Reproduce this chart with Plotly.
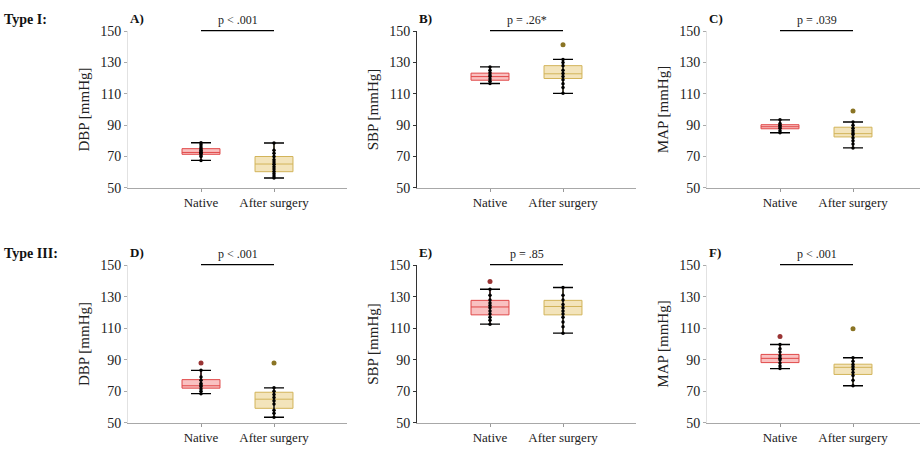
import plotly.graph_objects as go

# ---------------- data ----------------
categories = ["Native", "After surgery"]
panel_labels = ["A)", "B)", "C)", "D)", "E)", "F)"]
y_titles = ["DBP [mmHg]", "SBP [mmHg]", "MAP [mmHg]", "DBP [mmHg]", "SBP [mmHg]", "MAP [mmHg]"]
p_texts = ["p < .001", "p = .26*", "p = .039", "p < .001", "p = .85", "p < .001"]
row_labels = ["Type I:", "Type III:"]
y_ticks = [50, 70, 90, 110, 130, 150]

# box statistics per panel: [native, after]
q1 = [[71.4, 60.3], [118.7, 119.8], [87.7, 82.5], [72.0, 59.2], [118.5, 118.5], [88.2, 80.7]]
median = [[72.6, 65.2], [121.0, 122.8], [89.0, 84.6], [73.5, 65.0], [123.5, 123.8], [90.9, 85.2]]
q3 = [[75.0, 70.0], [123.2, 128.0], [90.3, 88.7], [77.4, 69.4], [127.7, 127.7], [93.4, 87.2]]
lower = [[67.5, 56.3], [116.6, 110.3], [85.2, 75.5], [68.5, 53.5], [112.6, 106.9], [84.4, 73.5]]
upper = [[78.8, 78.6], [127.2, 132.0], [93.4, 92.0], [83.3, 72.2], [134.7, 135.9], [99.7, 91.3]]
outliers = [[[], []], [[], [141.4]], [[], [99.0]], [[88.0], [88.0]], [[139.6], []], [[104.8], [109.7]]]
points = [
    [[67.5, 70, 71, 72, 72.5, 73, 74, 75, 76, 77.5, 78.8],
     [56.3, 57.5, 59, 60.5, 62, 63.5, 65, 66.5, 68, 70, 72, 74, 78.6]],
    [[116.6, 118, 119.5, 121, 122, 123.5, 125, 127.2],
     [110.3, 114, 116.5, 119, 121, 123, 125, 128, 130, 132]],
    [[85.2, 86.5, 88, 89, 90, 91, 93.4],
     [75.5, 78, 80, 82, 84, 85, 86.5, 88, 90, 92]],
    [[68.5, 70, 71.5, 73, 74, 75, 77, 79, 83.3],
     [53.5, 56, 58, 62, 64, 66, 68, 70, 72.2]],
    [[112.6, 115, 117, 119, 121, 123, 124.5, 126, 128, 131, 134.7],
     [106.9, 111, 114, 117, 119, 121, 123, 125, 128, 131, 135.9]],
    [[84.4, 86, 88, 90, 91, 92.5, 95, 97, 99.7],
     [73.5, 77, 80, 82, 84, 85.5, 87, 89, 91.3]],
]

# ---------------- styles ----------------
FONT = "Liberation Serif"
W, H = 920, 455
fills = ["rgba(246,160,160,0.65)", "rgba(236,214,150,0.65)"]
edges = ["#e04848", "#d2b45a"]
out_colors = ["#9a3434", "#8a7424"]
col_px = [(128, 347), (417, 636), (707, 920)]
row_px = [(25, 187), (267, 430)]
x_units_per_px = 3.0 / 219.0

fig = go.Figure()
annotations = []
shapes = []

for i in range(6):
    r, c = divmod(i, 3)
    ax = i + 1
    xa = "x" if ax == 1 else f"x{ax}"
    ya = "y" if ax == 1 else f"y{ax}"
    xpos = [k + 1 for k in range(len(categories))]
    for k in range(len(categories)):
        fig.add_trace(go.Box(
            x=[xpos[k]], q1=[q1[i][k]], median=[median[i][k]], q3=[q3[i][k]],
            lowerfence=[lower[i][k]], upperfence=[upper[i][k]],
            width=0.52, fillcolor=fills[k], line=dict(color=edges[k], width=1),
            whiskerwidth=0, boxpoints=False, xaxis=xa, yaxis=ya, showlegend=False,
            hoverinfo="skip"))
        fig.add_trace(go.Scatter(
            x=[xpos[k]], y=[median[i][k]], mode="markers",
            marker=dict(size=1, color="rgba(0,0,0,0)"),
            error_y=dict(type="data", symmetric=False,
                         array=[upper[i][k] - median[i][k]],
                         arrayminus=[median[i][k] - lower[i][k]],
                         color="black", thickness=1.4, width=10),
            xaxis=xa, yaxis=ya, showlegend=False, hoverinfo="skip"))
        fig.add_trace(go.Scatter(
            x=[xpos[k]] * len(points[i][k]), y=points[i][k], mode="markers",
            marker=dict(size=3.5, color="black"),
            xaxis=xa, yaxis=ya, showlegend=False, hoverinfo="skip"))
        if outliers[i][k]:
            fig.add_trace(go.Scatter(
                x=[xpos[k]] * len(outliers[i][k]), y=outliers[i][k], mode="markers",
                marker=dict(size=5, color=out_colors[k]), cliponaxis=False,
                xaxis=xa, yaxis=ya, showlegend=False, hoverinfo="skip"))

    x0p, x1p = col_px[c]
    y0p, y1p = row_px[r]
    xmax = (x1p - x0p) * x_units_per_px
    mid = (c == 1)
    fig.update_layout(**{
        ("xaxis" if ax == 1 else f"xaxis{ax}"): dict(
            domain=[x0p / W, x1p / W], range=[0, xmax], anchor=ya,
            tickvals=xpos, ticktext=categories, ticks="outside", ticklen=3,
            tickcolor="#999999", showline=True, linecolor="#a8a8a8", linewidth=1,
            showgrid=False, zeroline=False,
            tickfont=dict(family=FONT, size=13, color="#222222")),
        ("yaxis" if ax == 1 else f"yaxis{ax}"): dict(
            domain=[1 - y1p / H, 1 - y0p / H], range=[50, 150], anchor=xa,
            tickvals=y_ticks, ticks="outside", ticklen=3,
            tickcolor="#333333" if mid else "#aaaaaa",
            showline=True, linecolor="#333333" if mid else "#e2e2e2", linewidth=1,
            showgrid=False, zeroline=False,
            tickfont=dict(family=FONT, size=14, color="#222222"),
            title=dict(text=y_titles[i], font=dict(family=FONT, size=15, color="#222222"),
                       standoff=6)),
    })
    # significance bar
    xd0 = xpos[0] / xmax
    xd1 = xpos[1] / xmax
    shapes.append(dict(type="line", xref=f"{xa} domain", yref=f"{ya} domain",
                       x0=xd0, x1=xd1, y0=1.003, y1=1.003,
                       line=dict(color="black", width=1.3)))
    annotations.append(dict(text=p_texts[i], xref=f"{xa} domain", yref=f"{ya} domain",
                            x=(xd0 + xd1) / 2, y=1.0, yshift=2, xanchor="center", yanchor="bottom",
                            showarrow=False, font=dict(family=FONT, size=12, color="#222222")))
    annotations.append(dict(text="<b>" + panel_labels[i] + "</b>", xref="paper", yref="paper",
                            x=x0p / W, y=1 - (y0p - 13) / H, xanchor="left", yanchor="middle",
                            showarrow=False, font=dict(family=FONT, size=13, color="#111111")))

for r in range(2):
    annotations.append(dict(text="<b>" + row_labels[r] + "</b>", xref="paper", yref="paper",
                            x=2 / W, y=1 - (row_px[r][0] - 12) / H, xanchor="left", yanchor="middle",
                            showarrow=False, font=dict(family=FONT, size=14, color="#111111")))

fig.update_layout(width=W, height=H, margin=dict(l=0, r=0, t=0, b=0),
                  font=dict(family=FONT),
                  plot_bgcolor="white", paper_bgcolor="white",
                  annotations=annotations, shapes=shapes, showlegend=False)

fig.write_html("out.html", config={"displayModeBar": False},
               post_script="document.body.style.margin='0';document.body.style.overflow='hidden';")
